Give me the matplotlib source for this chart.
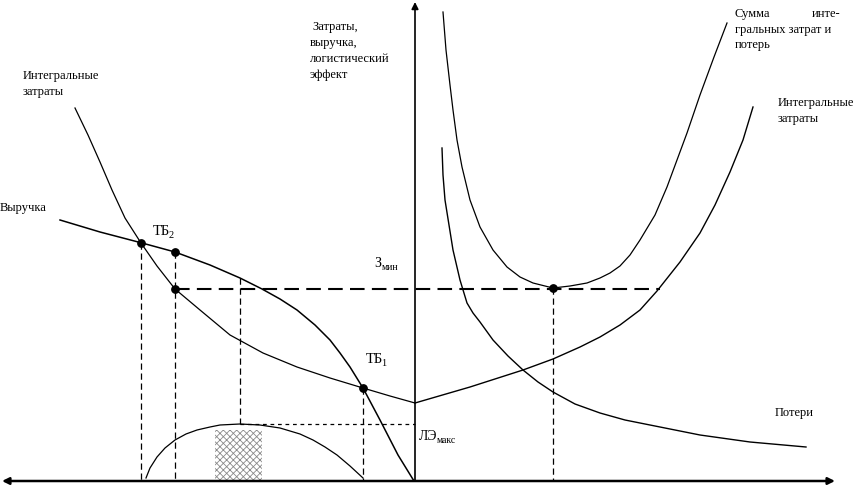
import matplotlib
matplotlib.use("Agg")
import matplotlib.pyplot as plt
from matplotlib.patches import Rectangle

plt.rcParams['font.family'] = ['Liberation Serif', 'DejaVu Serif']
plt.rcParams['hatch.linewidth'] = 0.6

# Curves (pixel-like coordinates, y grows downward)
ic_left_x = [75, 88, 100, 112, 125, 141, 157, 175, 200, 230, 263, 297, 330, 363, 390, 415]
ic_left_y = [108, 135, 162, 190, 218, 243, 266, 289, 310, 335, 353, 367, 378, 388, 396, 403]

rev_x = [60, 100, 142, 175, 210, 240, 262, 280, 297, 315, 330, 340, 350, 363, 380, 398, 414]
rev_y = [220, 232, 243, 252, 265, 278, 289, 299, 310, 325, 340, 353, 367, 388, 420, 455, 481]

le_x = [146, 150, 157, 165, 175, 186, 197, 210, 220, 240, 260, 280, 300, 313, 325, 337, 350, 363]
le_y = [478, 468, 457, 448, 440, 434, 430, 427, 425, 424, 425, 428, 434, 440, 447, 455, 466, 478]

sum_x = [443, 446, 450, 453, 457, 462, 470, 480, 493, 507, 520, 533, 553, 570, 587, 600, 610, 620, 630, 640, 655, 667, 687, 700, 714, 727]
sum_y = [12, 50, 85, 110, 140, 167, 200, 227, 250, 267, 277, 283, 288, 286, 283, 278, 273, 266, 255, 240, 215, 187, 133, 95, 57, 23]

loss_x = [442, 443, 445, 449, 453, 460, 467, 473, 480, 493, 508, 523, 538, 553, 575, 600, 625, 650, 700, 750, 806]
loss_y = [148, 175, 200, 225, 250, 280, 303, 313, 322, 340, 356, 370, 382, 392, 404, 413, 420, 425, 435, 442, 447]

ic_right_x = [415, 470, 523, 553, 580, 600, 620, 640, 657, 680, 700, 715, 730, 743, 753]
ic_right_y = [403, 387, 370, 359, 347, 337, 325, 310, 291, 262, 233, 205, 172, 140, 107]

pts_x = [141, 175, 175, 363, 553]
pts_y = [243, 252, 289, 388, 288]

fig = plt.figure(figsize=(8.57, 4.86), dpi=100)
ax = fig.add_axes([0, 0, 1, 1])
ax.set_xlim(0, 857)
ax.set_ylim(486, 0)
ax.axis('off')

k = 'black'
# axes
ax.annotate('', xy=(2, 481), xytext=(835, 481),
            arrowprops=dict(arrowstyle='<|-|>', lw=1.8, color=k, mutation_scale=10, shrinkA=0, shrinkB=0))
ax.annotate('', xy=(415, 2), xytext=(415, 481),
            arrowprops=dict(arrowstyle='-|>', lw=1.2, color=k, mutation_scale=10, shrinkA=0, shrinkB=0))

lw = 0.9
ax.plot(ic_left_x, ic_left_y, color=k, lw=lw)
ax.plot(rev_x, rev_y, color=k, lw=1.1)
ax.plot(le_x, le_y, color=k, lw=lw)
ax.plot(sum_x, sum_y, color=k, lw=lw)
ax.plot(loss_x, loss_y, color=k, lw=1.0)
ax.plot(ic_right_x, ic_right_y, color=k, lw=1.0)

# dashed guides
ax.plot([175, 660], [289, 289], color=k, lw=1.5, dashes=(7, 3.5))
for gx, gy0, gy1 in [(141, 243, 481), (175, 252, 481), (240, 278, 424), (363, 388, 481), (553, 288, 481)]:
    ax.plot([gx, gx], [gy0, gy1], color=k, lw=0.9, dashes=(5, 3))
ax.plot([240, 415], [424, 424], color=k, lw=0.9, dashes=(3, 3))

# stippled block
ax.add_patch(Rectangle((215, 430), 47, 51, facecolor='none', edgecolor='#8a8a8a', lw=0, hatch='xxxxx'))

ax.scatter(pts_x, pts_y, s=28, color=k, zorder=5)

fs = 9
ax.text(312, 27, 'Затраты,', fontsize=fs, va='center', ha='left')
ax.text(310, 43, 'выручка,', fontsize=fs, va='center', ha='left')
ax.text(310, 59, 'логистический', fontsize=fs, va='center', ha='left')
ax.text(310, 75, 'эффект', fontsize=fs, va='center', ha='left')

ax.text(23, 76, 'Интегральные', fontsize=fs, va='center', ha='left')
ax.text(23, 92, 'затраты', fontsize=fs, va='center', ha='left')
ax.text(0, 208, 'Выручка', fontsize=fs, va='center', ha='left')

ax.text(153, 231, 'ТБ', fontsize=10.5, va='center', ha='left')
ax.text(168.5, 235, '2', fontsize=7.5, va='center', ha='left')
ax.text(366, 359, 'ТБ', fontsize=10.5, va='center', ha='left')
ax.text(381.5, 363, '1', fontsize=7.5, va='center', ha='left')
ax.text(374, 263, 'З', fontsize=10, va='center', ha='left')
ax.text(382, 267, 'мин', fontsize=7, va='center', ha='left')
ax.text(419, 436, 'ЛЭ', fontsize=10, va='center', ha='left')
ax.text(437, 440, 'макс', fontsize=7, va='center', ha='left')

ax.text(735, 14, 'Сумма', fontsize=fs, va='center', ha='left')
ax.text(840, 14, 'инте-', fontsize=fs, va='center', ha='right')
ax.text(735, 30, 'гральных затрат и', fontsize=fs, va='center', ha='left')
ax.text(735, 45, 'потерь', fontsize=fs, va='center', ha='left')
ax.text(778, 103, 'Интегральные', fontsize=fs, va='center', ha='left')
ax.text(778, 119, 'затраты', fontsize=fs, va='center', ha='left')
ax.text(775, 413, 'Потери', fontsize=fs, va='center', ha='left')

fig.savefig('out.png', dpi=100)
